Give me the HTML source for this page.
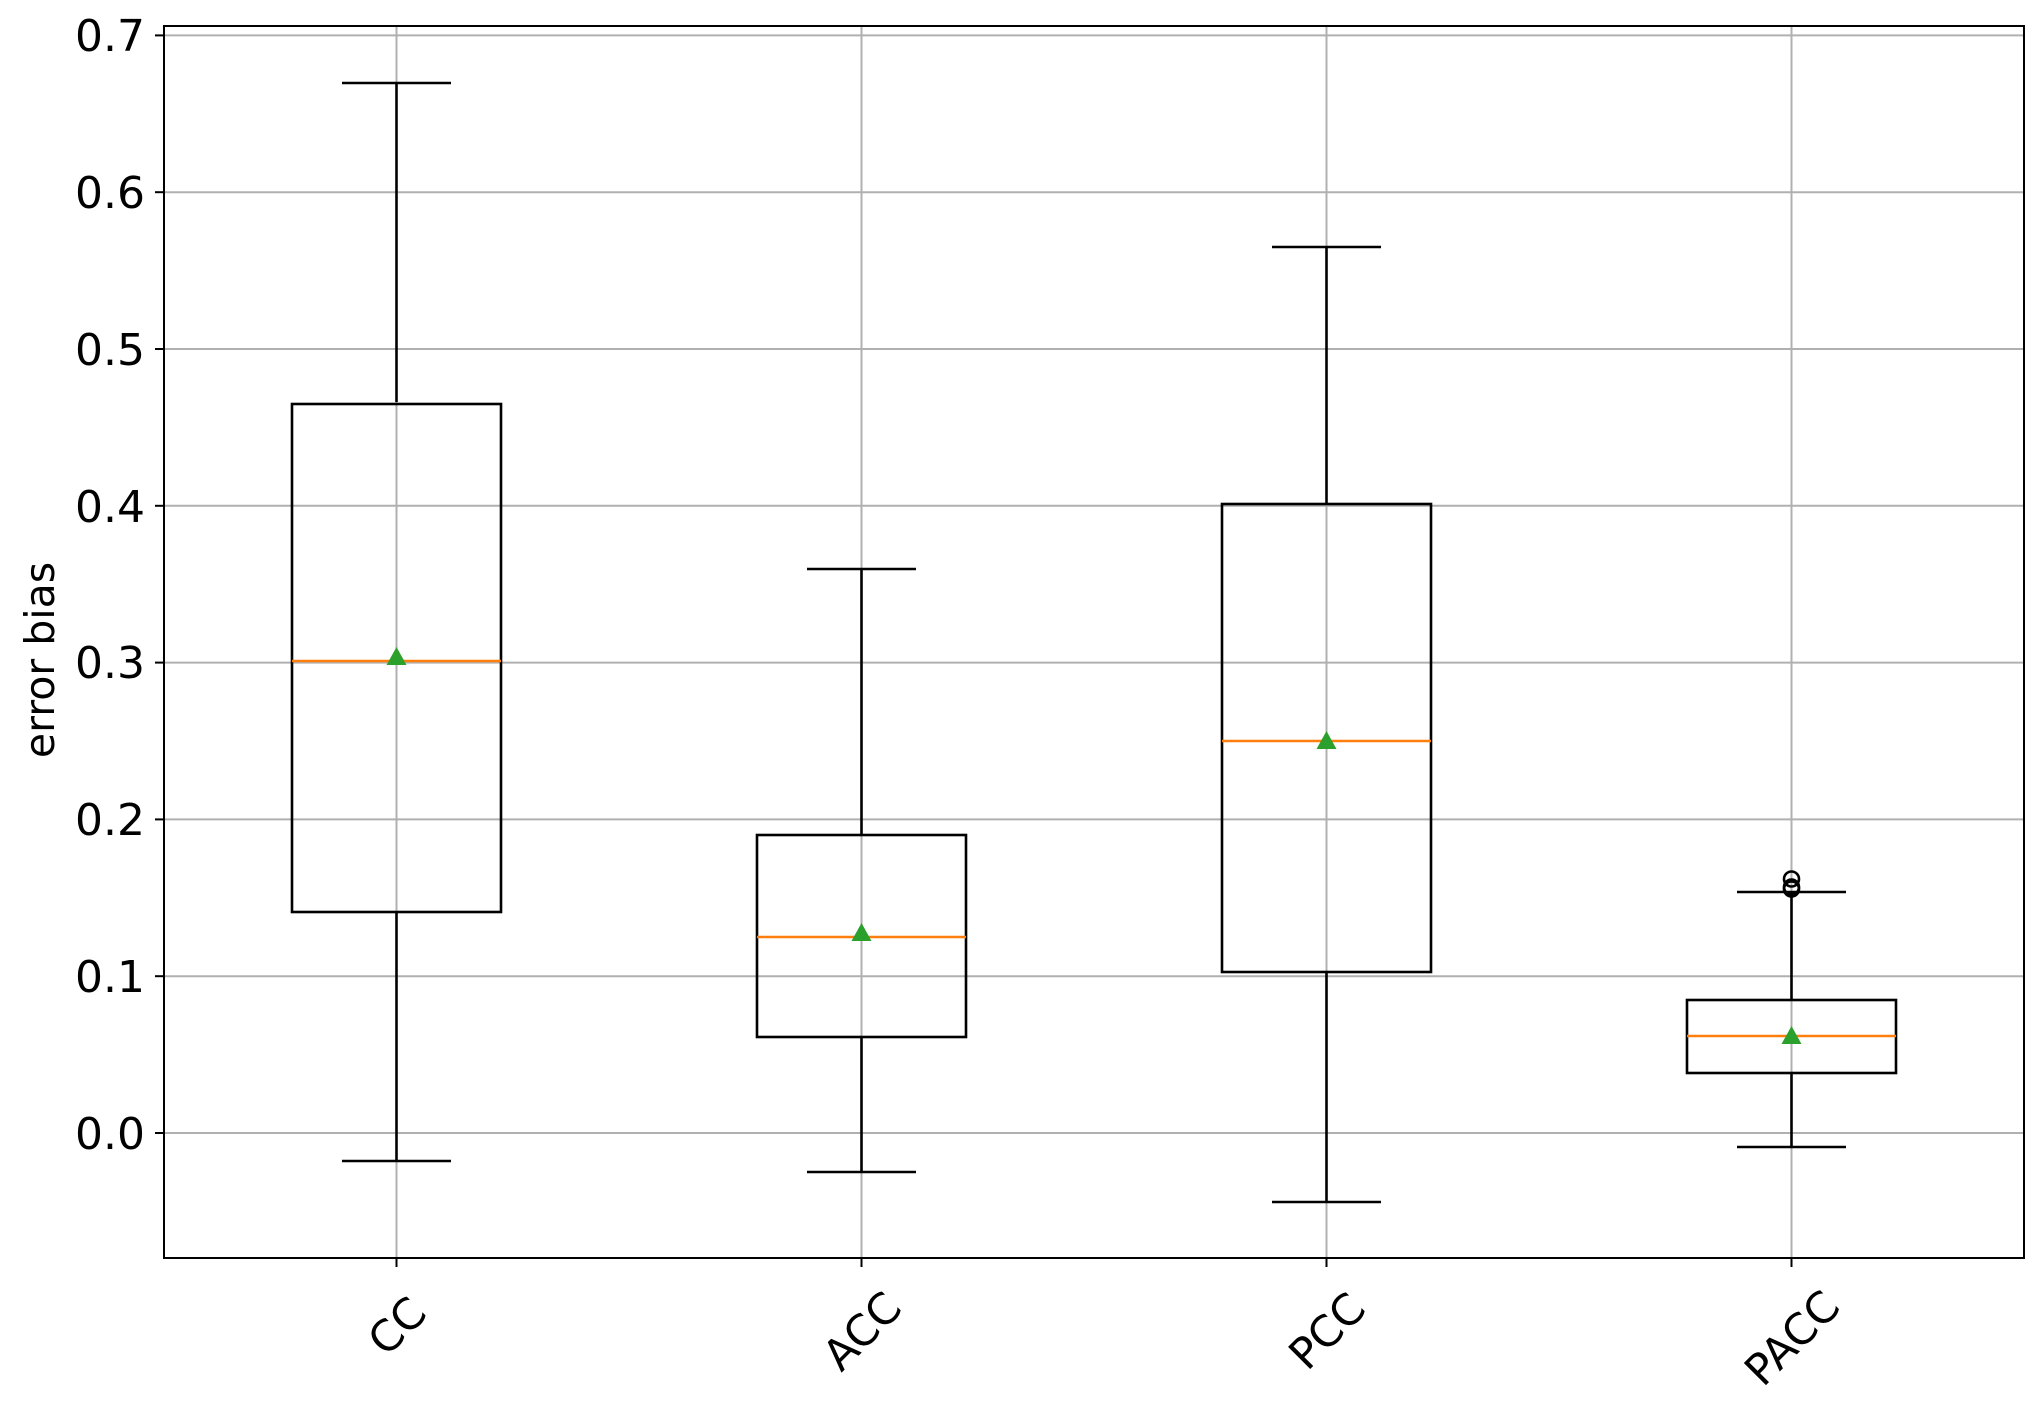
<!DOCTYPE html>
<html><head><meta charset="utf-8"><style>html,body{margin:0;padding:0;background:#fff}svg{display:block}</style></head>
<body>
<svg width="2044" height="1411" xmlns="http://www.w3.org/2000/svg" font-family="DejaVu Sans, Liberation Sans, sans-serif">
<rect width="2044" height="1411" fill="#fff"/>
<g stroke="#b0b0b0" stroke-width="2">
<line x1="164" x2="2024" y1="35.4" y2="35.4"/>
<line x1="164" x2="2024" y1="192.2" y2="192.2"/>
<line x1="164" x2="2024" y1="349" y2="349"/>
<line x1="164" x2="2024" y1="505.8" y2="505.8"/>
<line x1="164" x2="2024" y1="662.6" y2="662.6"/>
<line x1="164" x2="2024" y1="819.4" y2="819.4"/>
<line x1="164" x2="2024" y1="976.2" y2="976.2"/>
<line x1="164" x2="2024" y1="1133" y2="1133"/>
<line x1="396.5" x2="396.5" y1="26" y2="1258"/>
<line x1="861.5" x2="861.5" y1="26" y2="1258"/>
<line x1="1326.5" x2="1326.5" y1="26" y2="1258"/>
<line x1="1791.5" x2="1791.5" y1="26" y2="1258"/>
</g>
<g stroke="#000" stroke-width="2.6" fill="none">
<line x1="396.5" x2="396.5" y1="83" y2="402"/>
<line x1="396.5" x2="396.5" y1="912" y2="1161"/>
<line x1="342" x2="451" y1="83" y2="83"/>
<line x1="342" x2="451" y1="1161" y2="1161"/>
<rect x="292" y="404" width="209" height="508"/>
<line x1="861.5" x2="861.5" y1="569" y2="835"/>
<line x1="861.5" x2="861.5" y1="1037" y2="1172"/>
<line x1="807" x2="916" y1="569" y2="569"/>
<line x1="807" x2="916" y1="1172" y2="1172"/>
<rect x="757" y="835" width="209" height="202"/>
<line x1="1326.5" x2="1326.5" y1="247" y2="504"/>
<line x1="1326.5" x2="1326.5" y1="972" y2="1202"/>
<line x1="1272" x2="1381" y1="247" y2="247"/>
<line x1="1272" x2="1381" y1="1202" y2="1202"/>
<rect x="1222" y="504" width="209" height="468"/>
<line x1="1791.5" x2="1791.5" y1="892" y2="1000"/>
<line x1="1791.5" x2="1791.5" y1="1073" y2="1147"/>
<line x1="1737" x2="1846" y1="892" y2="892"/>
<line x1="1737" x2="1846" y1="1147" y2="1147"/>
<rect x="1687" y="1000" width="209" height="73"/>
<circle cx="1791.5" cy="879" r="7.5"/>
<circle cx="1791.5" cy="887" r="7.5"/>
<circle cx="1791.5" cy="889" r="7.5"/>
</g>
<g stroke="#ff7f0e" stroke-width="2.6">
<line x1="292" x2="501" y1="661" y2="661"/>
<line x1="757" x2="966" y1="937" y2="937"/>
<line x1="1222" x2="1431" y1="741" y2="741"/>
<line x1="1687" x2="1896" y1="1036" y2="1036"/>
</g>
<g fill="#2ca02c">
<polygon points="396.5,647 386.5,665 406.5,665"/>
<polygon points="861.5,923 851.5,941 871.5,941"/>
<polygon points="1326.5,731 1316.5,749 1336.5,749"/>
<polygon points="1791.5,1026 1781.5,1044 1801.5,1044"/>
</g>
<rect x="164" y="26" width="1860" height="1232" fill="none" stroke="#000" stroke-width="2"/>
<g stroke="#000" stroke-width="2">
<line x1="155" x2="164" y1="35.4" y2="35.4"/>
<line x1="155" x2="164" y1="192.2" y2="192.2"/>
<line x1="155" x2="164" y1="349" y2="349"/>
<line x1="155" x2="164" y1="505.8" y2="505.8"/>
<line x1="155" x2="164" y1="662.6" y2="662.6"/>
<line x1="155" x2="164" y1="819.4" y2="819.4"/>
<line x1="155" x2="164" y1="976.2" y2="976.2"/>
<line x1="155" x2="164" y1="1133" y2="1133"/>
<line x1="396.5" x2="396.5" y1="1258" y2="1267"/>
<line x1="861.5" x2="861.5" y1="1258" y2="1267"/>
<line x1="1326.5" x2="1326.5" y1="1258" y2="1267"/>
<line x1="1791.5" x2="1791.5" y1="1258" y2="1267"/>
</g>
<g font-size="44" text-anchor="end" fill="#000">
<text x="145" y="51">0.7</text>
<text x="145" y="208">0.6</text>
<text x="145" y="365">0.5</text>
<text x="145" y="522">0.4</text>
<text x="145" y="678">0.3</text>
<text x="145" y="835">0.2</text>
<text x="145" y="992">0.1</text>
<text x="145" y="1149">0.0</text>
</g>
<text x="0" y="0" font-size="41" text-anchor="middle" transform="translate(54,660) rotate(-90)">error bias</text>
<g font-size="43" text-anchor="middle" fill="#000">
<text transform="translate(397,1326) rotate(-45)" dy="15">CC</text>
<text transform="translate(862,1331) rotate(-45)" dy="15">ACC</text>
<text transform="translate(1327,1331) rotate(-45)" dy="15">PCC</text>
<text transform="translate(1792,1338) rotate(-45)" dy="15">PACC</text>
</g>
</svg>
</body></html>
